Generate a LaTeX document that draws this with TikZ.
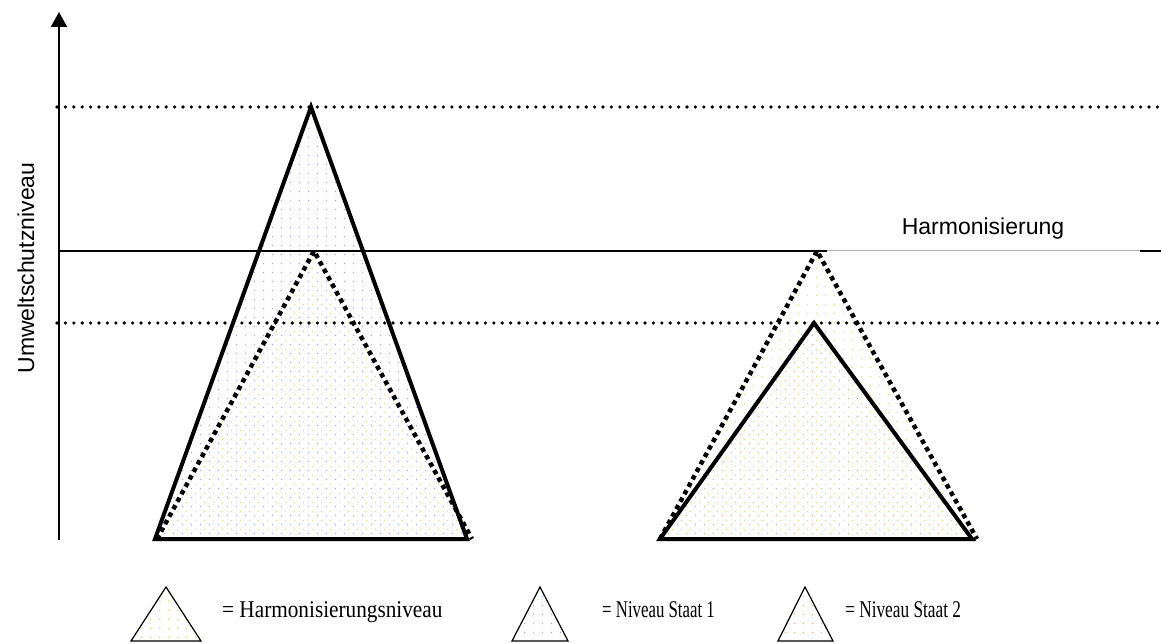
\documentclass[tikz,border=0pt]{standalone}
\usepackage{fontspec}
\setmainfont{Liberation Serif}
\newfontfamily\arialfont{Liberation Sans}
\usetikzlibrary{patterns,arrows.meta}
\pgfdeclarepatternformonly{sparsedotsA}{\pgfpointorigin}{\pgfpoint{9pt}{9pt}}{\pgfpoint{9pt}{9pt}}{%
  \pgfpathrectangle{\pgfpoint{2pt}{2pt}}{\pgfpoint{1.5pt}{1.5pt}}\pgfusepath{fill}}
\pgfdeclarepatternformonly{sparsedotsB}{\pgfpointorigin}{\pgfpoint{9pt}{9pt}}{\pgfpoint{9pt}{9pt}}{%
  \pgfpathrectangle{\pgfpoint{6.5pt}{6.5pt}}{\pgfpoint{1.5pt}{1.5pt}}\pgfusepath{fill}}
\definecolor{dotblue}{RGB}{150,175,250}
\definecolor{dotyellow}{RGB}{215,225,120}
\definecolor{dotred}{RGB}{245,165,140}
\tikzset{
  solidtri/.style={line width=4pt, line join=miter},
  dottri/.style={line width=4.5pt, dash pattern=on 4.5pt off 4pt},
  dotline/.style={line width=3.6pt, line cap=round, dash pattern=on 0pt off 8.4pt},
  legtri/.style={line width=1.2pt, line join=miter},
  fillblue/.style={pattern=sparsedotsA, pattern color=dotblue},
  fillyellow/.style={pattern=sparsedotsB, pattern color=dotyellow},
  fillred/.style={pattern=sparsedotsA, pattern color=dotred},
  sanslabel/.style={font=\arialfont\fontsize{23pt}{27pt}\selectfont, inner sep=0pt},
  seriflabel/.style={font=\fontsize{24pt}{28pt}\selectfont, inner sep=0pt, anchor=base west},
}
\begin{document}
\begin{tikzpicture}[x=1pt,y=-1pt]
\useasboundingbox (0,0) rectangle (1161,644);
% coordinates
\coordinate (axb) at (59,540);
\coordinate (axm) at (59,130);
\coordinate (axt) at (59,12);
\coordinate (tl) at (57,107);
\coordinate (tr) at (1161,107);
\coordinate (ll) at (57,323);
\coordinate (lr) at (1161,323);
\coordinate (hl) at (59,251);
\coordinate (hm) at (827,251);
\coordinate (hg) at (1140,251);
\coordinate (hr) at (1161,251);
% left triangles
\coordinate (A1) at (311,107); \coordinate (A1l) at (155,539); \coordinate (A1r) at (467,539);
\coordinate (H1) at (314,251); \coordinate (H1l) at (157,539); \coordinate (H1r) at (472,539);
% right triangles
\coordinate (H2) at (817,251); \coordinate (H2l) at (660,539); \coordinate (H2r) at (977,539);
\coordinate (B2) at (814,323); \coordinate (B2l) at (660,539); \coordinate (B2r) at (972,539);
% fills
\fill[fillblue] (A1) -- (A1r) -- (A1l) -- cycle;
\fill[fillyellow] (H1) -- (H1r) -- (H1l) -- cycle;
\fill[fillyellow] (H2) -- (H2r) -- (H2l) -- cycle;
\fill[fillred] (B2) -- (B2r) -- (B2l) -- cycle;
% axis
\draw[line width=1.3pt] (axb) -- (axm);
\draw[line width=2pt, -{Triangle[length=15pt,width=16pt]}] (axm) -- (axt);
% horizontal lines
\draw[dotline] (tl) -- (tr);
\draw[dotline] (ll) -- (lr);
\draw[line width=1.4pt] (hl) -- (hm);
\draw[line width=1pt, black!30] (hm) -- (hg);
\draw[line width=1.4pt] (hg) -- (hr);
% triangle outlines
\draw[dottri] (H1l) -- (H1) -- (H1r);
\draw[solidtri] (A1) -- (A1r) -- (A1l) -- cycle;
\draw[dottri] (H2l) -- (H2) -- (H2r);
\draw[solidtri] (B2) -- (B2r) -- (B2l) -- cycle;
% labels
\node[sanslabel, anchor=base] (harm) at (983,235) {Harmonisierung};
\node[sanslabel, anchor=base, rotate=90] (ylab) at (34,268) {Umweltschutzniveau};
% legend
\coordinate (L1) at (166,587); \coordinate (L1l) at (131,641); \coordinate (L1r) at (201,641);
\coordinate (L2) at (540,587); \coordinate (L2l) at (512,641); \coordinate (L2r) at (568,641);
\coordinate (L3) at (805,587); \coordinate (L3l) at (778,641); \coordinate (L3r) at (833,641);
\fill[fillyellow] (L1) -- (L1r) -- (L1l) -- cycle;
\fill[fillblue] (L2) -- (L2r) -- (L2l) -- cycle;
\fill[fillred] (L3) -- (L3r) -- (L3l) -- cycle;
\draw[legtri] (L1) -- (L1r) -- (L1l) -- cycle;
\draw[legtri] (L2) -- (L2r) -- (L2l) -- cycle;
\draw[legtri] (L3) -- (L3r) -- (L3l) -- cycle;
\node[seriflabel] (t1) at (222,617) {\scalebox{0.885}[1]{= Harmonisierungsniveau}};
\node[seriflabel] (t2) at (602,617) {\scalebox{0.7}[1]{= Niveau Staat 1}};
\node[seriflabel] (t3) at (845,617) {\scalebox{0.72}[1]{= Niveau Staat 2}};
\end{tikzpicture}
\end{document}
